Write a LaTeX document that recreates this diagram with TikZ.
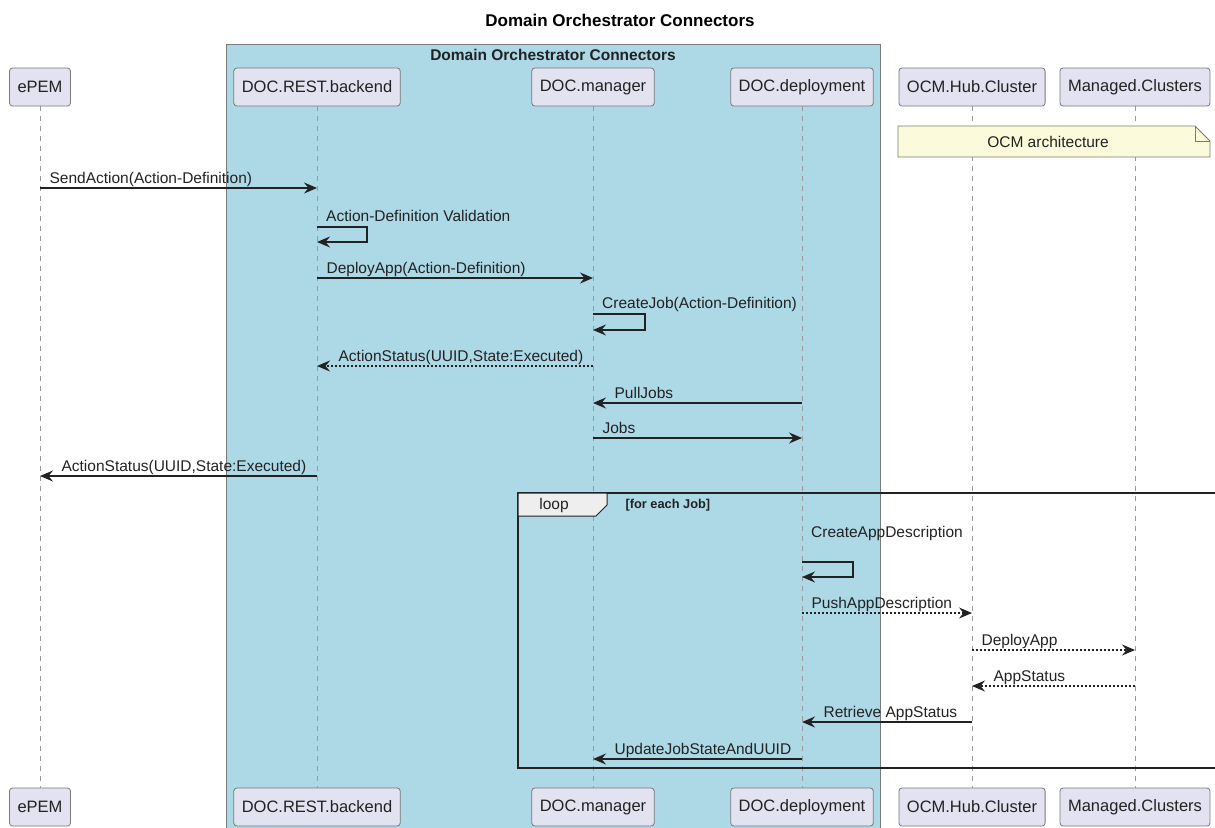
\documentclass[tikz,border=0pt]{standalone}
\usepackage{fontspec}
\setmainfont{Liberation Sans}
\usetikzlibrary{arrows.meta, calc}
\definecolor{bgGroup}{HTML}{ADD8E6}
\definecolor{bgPart}{HTML}{E2E2F0}
\definecolor{bgNote}{HTML}{FBFBDB}
\definecolor{bgTab}{HTML}{EEEEEE}
\definecolor{borderMain}{HTML}{7A7A7A}
\definecolor{lineMain}{HTML}{222222}
\definecolor{lifeColor}{HTML}{9A9A9A}
\tikzset{
  participant/.style={
    draw=borderMain, fill=bgPart, rounded corners=3pt,
    minimum height=38pt, inner xsep=8pt,
    font=\fontsize{16.5}{19}\selectfont, text=lineMain, line width=0.8pt,
  },
  lifeline/.style={
    draw=lifeColor, dash pattern=on 5pt off 5pt, line width=0.8pt,
  },
  msg/.style={
    -{Stealth[length=13pt, width=11pt, inset=4.5pt]}, line width=1.2pt, color=lineMain,
  },
  reply/.style={msg, dash pattern=on 2pt off 2pt},
  msglabel/.style={
    anchor=base west, inner sep=0pt,
    font=\fontsize{15.5}{18}\selectfont, text=lineMain,
  },
}

\begin{document}
\begin{tikzpicture}[x=1pt, y=-1pt]
  \path[use as bounding box, clip] (0,0) rectangle (1215,827);

  % === Title ===
  \node[font=\fontsize{17}{20}\selectfont\bfseries, text=black] (title) at (620,20) {Domain Orchestrator Connectors};

  % === Group box ===
  \draw[draw=borderMain, fill=bgGroup, line width=0.8pt] (226,44) rectangle (880,840);
  \node[font=\fontsize{15.5}{18}\selectfont\bfseries, text=lineMain] (grpLabel) at (553,55) {Domain Orchestrator Connectors};

  % === Participants (top row) ===
  \node[participant] (epemTop) at (40,87) {ePEM};
  \node[participant] (restTop) at (317,87) {DOC.REST.backend};
  \node[participant] (mgrTop) at (593,87) {DOC.manager};
  \node[participant] (depTop) at (802,87) {DOC.deployment};
  \node[participant] (hubTop) at (972,87) {OCM.Hub.Cluster};
  \node[participant] (mcTop) at (1135,87) {Managed.Clusters};

  % === Participants (bottom row) ===
  \node[participant] (epemBot) at (40,807) {ePEM};
  \node[participant] (restBot) at (317,807) {DOC.REST.backend};
  \node[participant] (mgrBot) at (593,807) {DOC.manager};
  \node[participant] (depBot) at (802,807) {DOC.deployment};
  \node[participant] (hubBot) at (972,807) {OCM.Hub.Cluster};
  \node[participant] (mcBot) at (1135,807) {Managed.Clusters};

  % === Lifelines ===
  \foreach \p in {epem, rest, mgr, dep, hub, mc}
    \draw[lifeline] (\p Top) -- (\p Bot);

  % === Note ===
  \draw[draw=borderMain, fill=bgNote, line width=0.8pt]
    (898,126) -- (1195,126) -- (1210,141) -- (1210,157) -- (898,157) -- cycle;
  \draw[draw=borderMain, line width=0.8pt] (1195,126) -- (1195,141) -- (1210,141);
  \node[font=\fontsize{15.5}{18}\selectfont, text=lineMain] (note) at (1048,142) {OCM architecture};

  % === Messages ===
  \draw[msg] (epemTop |- 0,188) -- node[msglabel, pos=0, xshift=9pt, yshift=5pt] {SendAction(Action-Definition)} (restTop |- 0,188);
  \draw[msg] (restTop |- 0,227) -- ++(50,0) -- ++(0,15) -- ++(-50,0);
  \node[msglabel] (lblValid) at ($(restTop |- 0,227)+(9,-6)$) {Action-Definition Validation};
  \draw[msg] (restTop |- 0,278) -- node[msglabel, pos=0, xshift=9pt, yshift=5pt] {DeployApp(Action-Definition)} (mgrTop |- 0,278);
  \draw[msg] (mgrTop |- 0,314) -- ++(52,0) -- ++(0,16) -- ++(-52,0);
  \node[msglabel] (lblJob) at ($(mgrTop |- 0,314)+(9,-6)$) {CreateJob(Action-Definition)};
  \draw[reply] (mgrTop |- 0,366) -- node[msglabel, pos=1, xshift=21pt, yshift=5pt] {ActionStatus(UUID,State:Executed)} (restTop |- 0,366);
  \draw[msg] (depTop |- 0,403) -- node[msglabel, pos=1, xshift=21pt, yshift=5pt] {PullJobs} (mgrTop |- 0,403);
  \draw[msg] (mgrTop |- 0,438) -- node[msglabel, pos=0, xshift=9pt, yshift=5pt] {Jobs} (depTop |- 0,438);
  \draw[msg] (restTop |- 0,476) -- node[msglabel, pos=1, xshift=21pt, yshift=5pt] {ActionStatus(UUID,State:Executed)} (epemTop |- 0,476);

  % === Loop frame ===
  \draw[line width=2pt, draw=lineMain] (1230,493) -- (518,493) -- (518,768) -- (1230,768);
  \draw[line width=1pt, draw=lineMain, fill=bgTab]
    (518,493) -- (607,493) -- (607,505) -- (596,516) -- (518,516) -- cycle;
  \node[font=\fontsize{15.5}{18}\selectfont, text=lineMain] (loopTag) at (554,505) {loop};
  \node[anchor=west, font=\fontsize{12.8}{15}\selectfont\bfseries, text=lineMain] (loopCond) at (622,505) {[for each Job]};

  % === Messages inside loop ===
  \draw[msg] (depTop |- 0,562) -- ++(51,0) -- ++(0,15) -- ++(-51,0);
  \node[msglabel] (lblApp) at ($(depTop |- 0,537)+(9,0)$) {CreateAppDescription};
  \draw[reply] (depTop |- 0,613) -- node[msglabel, pos=0, xshift=9pt, yshift=5pt] {PushAppDescription} (hubTop |- 0,613);
  \draw[reply] (hubTop |- 0,650) -- node[msglabel, pos=0, xshift=9pt, yshift=5pt] {DeployApp} (mcTop |- 0,650);
  \draw[reply] (mcTop |- 0,686) -- node[msglabel, pos=1, xshift=21pt, yshift=5pt] {AppStatus} (hubTop |- 0,686);
  \draw[msg] (hubTop |- 0,722) -- node[msglabel, pos=1, xshift=21pt, yshift=5pt] {Retrieve AppStatus} (depTop |- 0,722);
  \draw[msg] (depTop |- 0,759) -- node[msglabel, pos=1, xshift=21pt, yshift=5pt] {UpdateJobStateAndUUID} (mgrTop |- 0,759);

\end{tikzpicture}
\end{document}
